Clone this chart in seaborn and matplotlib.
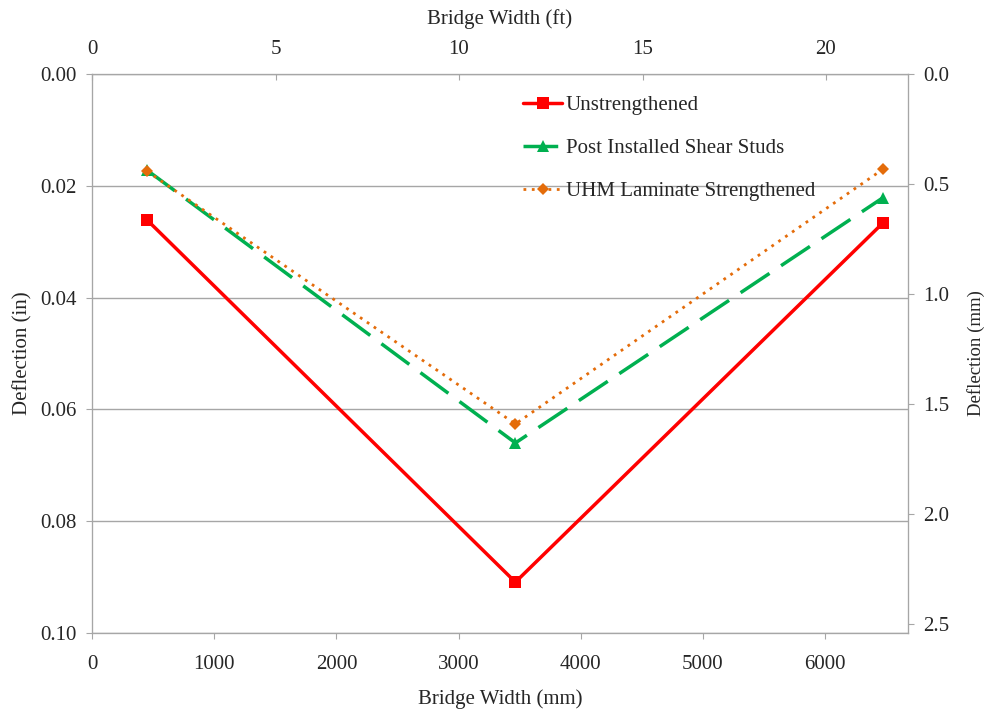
import matplotlib
matplotlib.use("Agg")
import matplotlib.pyplot as plt
import seaborn as sns
import pandas as pd

# data
width_mm = [450, 3465, 6475]
unstrengthened = [0.0261, 0.0909, 0.0266]
shear_studs = [0.0172, 0.0660, 0.0221]
uhm_laminate = [0.0174, 0.0626, 0.0170]
series_names = ["Unstrengthened", "Post Installed Shear Studs", "UHM Laminate Strengthened"]

sns.set_style("white")
plt.rcParams["font.family"] = ["Liberation Serif", "DejaVu Serif"]
plt.rcParams["font.size"] = 15

df = pd.DataFrame({
    "width": width_mm * 3,
    "deflection": unstrengthened + shear_studs + uhm_laminate,
    "series": [series_names[0]] * 3 + [series_names[1]] * 3 + [series_names[2]] * 3,
})

fig = plt.figure(figsize=(9.85, 7.15), dpi=100)
ax = fig.add_axes([92 / 985, 82 / 715, 816 / 985, 559 / 715])

styles = {
    series_names[0]: dict(color="#FF0000", marker="s", markersize=8, linewidth=2.5, linestyle="-"),
    series_names[1]: dict(color="#00B050", marker="^", markersize=8, linewidth=2.5, dashes=(10, 4)),
    series_names[2]: dict(color="#E46C0A", marker="D", markersize=6, linewidth=2, linestyle=(0, (1, 2))),
}
for name in series_names:
    st = styles[name]
    sns.lineplot(data=df[df["series"] == name], x="width", y="deflection", ax=ax,
                 label=name, color=st["color"], marker=st["marker"],
                 markersize=st["markersize"], linewidth=st["linewidth"],
                 markeredgewidth=0)
    line = ax.lines[-1]
    if "dashes" in st:
        line.set_dashes(st["dashes"])
    else:
        line.set_linestyle(st["linestyle"])

ax.set_xlim(0, 6678)
ax.set_ylim(0.10, 0.0)
ax.set_xticks(range(0, 7000, 1000))
ax.set_yticks([0.0, 0.02, 0.04, 0.06, 0.08, 0.10])
ax.set_yticklabels([f"{v:.2f}" for v in [0.0, 0.02, 0.04, 0.06, 0.08, 0.10]])
ax.yaxis.grid(True, color="#A6A6A6", linewidth=1)
ax.set_axisbelow(True)
ax.set_xlabel("Bridge Width (mm)", labelpad=11.5)
ax.set_ylabel("Deflection (in)", labelpad=5.7)
for sp in ax.spines.values():
    sp.set_color("#A6A6A6")
ax.tick_params(axis="x", direction="out", length=4, color="#A6A6A6", labelsize=15, pad=11.5)
ax.tick_params(axis="y", direction="out", length=4, color="#A6A6A6", labelsize=15, pad=7)

# top axis in feet
axt = ax.twiny()
axt.set_xlim(0, 816 / 36.7)
axt.set_xticks([0, 5, 10, 15, 20])
axt.set_xlabel("Bridge Width (ft)", labelpad=11.5)
axt.tick_params(axis="x", direction="in", length=4, color="#A6A6A6", labelsize=15, pad=11)

# right axis in mm
axr = ax.twinx()
axr.set_ylim(2.54, 0.0)
axr.set_yticks([0.0, 0.5, 1.0, 1.5, 2.0, 2.5])
axr.set_yticklabels([f"{v:.1f}" for v in [0.0, 0.5, 1.0, 1.5, 2.0, 2.5]])
axr.set_ylabel("Deflection (mm)", labelpad=12.5, fontsize=13.5)
axr.tick_params(axis="y", direction="out", length=4, color="#A6A6A6", labelsize=15, pad=7)
for a in (axt, axr):
    for sp in a.spines.values():
        sp.set_color("#A6A6A6")

ax.legend(loc="upper left", bbox_to_anchor=(0.528, 0.961), frameon=False,
          borderaxespad=0, borderpad=0, handlelength=1.9, labelspacing=1.12,
          handletextpad=0.15, fontsize=15)

fig.savefig("out.png", dpi=100)
